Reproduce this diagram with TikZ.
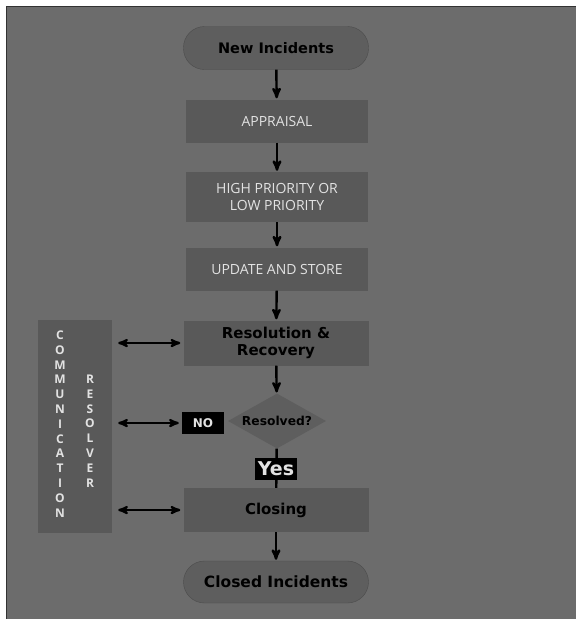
\documentclass[tikz,border=0pt]{standalone}
\usepackage{fontspec}
\setmainfont{DejaVu Sans}
\newfontfamily\lightfont{Open Sans}
\usetikzlibrary{arrows,positioning,shapes.geometric}

\definecolor{pagegray}{HTML}{6C6C6C}
\definecolor{boxgray}{HTML}{595959}
\definecolor{pillgray}{HTML}{5E5E5E}
\definecolor{lighttext}{HTML}{E2E2E2}

\begin{document}
\begin{tikzpicture}[>=stealth',node distance=74pt,
  flow/.style={->,line width=2.4pt,shorten >=1pt},
  link/.style={<->,line width=2.2pt,shorten <=6pt,shorten >=3pt},
  pill node/.style={rectangle,rounded corners=21pt,fill=pillgray,draw=black!70,
    minimum width=185pt,minimum height=43pt,font=\bfseries\fontsize{14.5}{17}\selectfont},
  main node/.style={rectangle,fill=boxgray,minimum width=182pt,minimum height=43pt,
    align=center,text=lighttext,font=\lightfont\fontsize{14}{17}\selectfont},
  dark node/.style={rectangle,fill=boxgray,minimum width=185pt,minimum height=44pt,
    align=center,font=\bfseries\fontsize{15}{17}\selectfont},
  tag node/.style={rectangle,fill=black,text=lighttext,inner sep=0pt,
    minimum width=42pt,minimum height=22pt},
  letter column/.style={align=center,text=lighttext,font=\lightfont\bfseries\fontsize{12}{14.8}\selectfont}]

 % page
 \useasboundingbox (0,0) rectangle (576pt,-619pt);
 \fill[white] (0,0) rectangle (576pt,-619pt);
 \fill[pagegray] (6pt,-6pt) rectangle (576pt,-619pt);
 \draw[black!80,line width=1.5pt] (6.5pt,-619pt) -- (6.5pt,-6.5pt) -- (576pt,-6.5pt);

 % main flow
 \node[pill node] (new) at (276pt,-48pt) {New Incidents};
 \node[main node] (appraisal) [below of=new,node distance=73pt,xshift=1pt] {APPRAISAL};
 \node[main node,minimum height=50pt] (priority) [below of=appraisal,node distance=76pt] {HIGH PRIORITY OR\\LOW PRIORITY};
 \node[main node] (update) [below of=priority,node distance=72pt] {UPDATE AND STORE};
 \node[dark node,minimum height=45pt] (resolution) [below of=update,xshift=-1pt] {Resolution \&\\Recovery};
 \node[diamond,aspect=1.8,fill=pillgray,inner sep=0pt,minimum width=98pt,minimum height=55pt,
   text=black,font=\bfseries\fontsize{12.3}{14}\selectfont] (resolved) [below of=resolution,node distance=78pt,xshift=1pt] {Resolved?};
 \node[dark node] (closing) [below of=resolved,node distance=89pt,xshift=-1pt] {Closing};
 \node[pill node,minimum height=42pt,font=\bfseries\fontsize{15.5}{17}\selectfont] (closed) [below of=closing,node distance=72pt] {Closed Incidents};

 % labels on the decision
 \node[tag node,font=\bfseries\fontsize{12}{14}\selectfont] (no) at (203pt,-423pt) {NO};

 % side box
 \node[rectangle,fill=boxgray,minimum width=74pt,minimum height=213pt] (side) at (75pt,-426.5pt) {};
 \node[letter column] (comm) at (60pt,-424pt)
   {C\\O\\M\\M\\U\\N\\I\\C\\A\\T\\I\\O\\N};
 \node[letter column] (resolver) at (90pt,-431pt)
   {R\\E\\S\\O\\L\\V\\E\\R};

 \coordinate (sideA) at (side.east |- resolution.west);
 \coordinate (sideB) at (side.east |- no.west);
 \coordinate (sideC) at (side.east |- closing.west);

 \path[flow]
    (new)        edge (appraisal)
    (appraisal)  edge (priority)
    (priority)   edge (update)
    (update)     edge (resolution)
    (resolution) edge (resolved)
    (closing)    edge (closed);
 \draw[line width=2.4pt] (resolved) -- (closing);
 \node[tag node,font=\bfseries\fontsize{19}{20}\selectfont] (yes) at (276pt,-469pt) {Yes};

 \path[link]
    (sideA) edge (resolution.west)
    (sideB) edge (no.west)
    (sideC) edge (closing.west);

\end{tikzpicture}
\end{document}
